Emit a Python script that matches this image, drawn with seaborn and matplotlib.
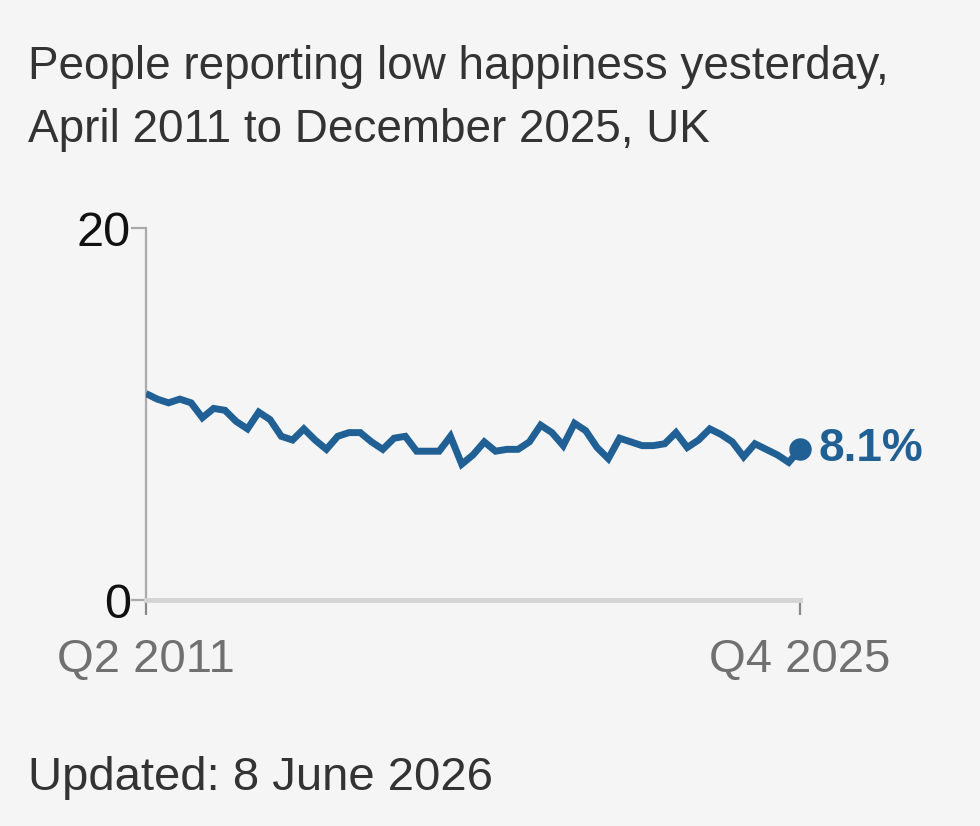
import matplotlib
matplotlib.use("Agg")
import matplotlib.pyplot as plt
import seaborn as sns
import pandas as pd
import numpy as np

# Quarterly share of people reporting low happiness (%), Q2 2011 .. Q4 2025
quarters = [f"Q{q} {y}" for y in range(2011, 2026) for q in range(1, 5)][1:]
values = [11.1, 10.8, 10.6, 10.8, 10.6, 9.8, 10.3, 10.2, 9.6, 9.2,
          10.1, 9.7, 8.8, 8.6, 9.2, 8.6, 8.1, 8.8, 9.0, 9.0,
          8.5, 8.1, 8.7, 8.8, 8.0, 8.0, 8.0, 8.8, 7.3, 7.8,
          8.5, 8.0, 8.1, 8.1, 8.5, 9.4, 9.0, 8.3, 9.5, 9.1,
          8.2, 7.6, 8.7, 8.5, 8.3, 8.3, 8.4, 9.0, 8.2, 8.6,
          9.2, 8.9, 8.5, 7.7, 8.4, 8.1, 7.8, 7.4, 8.1]
x_tick_labels = ["Q2 2011", "Q4 2025"]
y_ticks = [0, 20]
title = "People reporting low happiness yesterday,\nApril 2011 to December 2025, UK"
footer = "Updated: 8 June 2026"
end_label = "8.1%"

df = pd.DataFrame({"idx": np.arange(len(values)), "quarter": quarters[:len(values)], "value": values})

sns.set_style("white")
plt.rcParams["font.family"] = ["Liberation Sans", "DejaVu Sans"]

BG = "#f5f5f5"
BLUE = "#206095"

fig = plt.figure(figsize=(9.8, 8.26), dpi=100, facecolor=BG)
ax = fig.add_axes([146 / 980, (826 - 600) / 826, (800 - 146) / 980, (600 - 228) / 826])
ax.set_facecolor(BG)

sns.lineplot(data=df, x="idx", y="value", ax=ax, color=BLUE, linewidth=5.0,
             solid_joinstyle="miter", solid_capstyle="butt")
last = df.iloc[-1]
ax.scatter([last["idx"]], [last["value"]], s=230, color=BLUE, zorder=5, clip_on=False)
ax.annotate(end_label, xy=(last["idx"], last["value"]), xytext=(13, 0),
            textcoords="offset points", va="center", ha="left",
            fontsize=33, fontweight="bold", color=BLUE, annotation_clip=False)

ax.set_xlim(0, len(values) - 1)
ax.set_ylim(0, 20)
ax.set_xticks([0, len(values) - 1])
ax.set_xticklabels(x_tick_labels)
ax.set_yticks(y_ticks)
ax.set_yticklabels([str(t) for t in y_ticks])
ax.set_xlabel("")
ax.set_ylabel("")

for s in ["top", "right"]:
    ax.spines[s].set_visible(False)
ax.spines["left"].set_color("#aaaaaa")
ax.spines["left"].set_linewidth(1.6)
ax.spines["bottom"].set_color("#d4d4d4")
ax.spines["bottom"].set_linewidth(3.5)
ax.spines["left"].set_zorder(1)

ax.tick_params(axis="y", length=11, width=1.6, color="#aaaaaa", labelsize=35,
               labelcolor="#111111", pad=0, left=True)
ax.tick_params(axis="x", length=11, width=1.6, color="#888888", labelsize=34,
               labelcolor="#707070", pad=16, bottom=True, direction="out")

fig.text(28 / 980, 1 - 45 / 826, title, ha="left", va="top", fontsize=33,
         color="#333333", linespacing=1.55)
fig.text(28 / 980, 1 - 778 / 826, footer, ha="left", va="center", fontsize=34,
         color="#333333")

fig.savefig("out.png", dpi=100, facecolor=BG)
